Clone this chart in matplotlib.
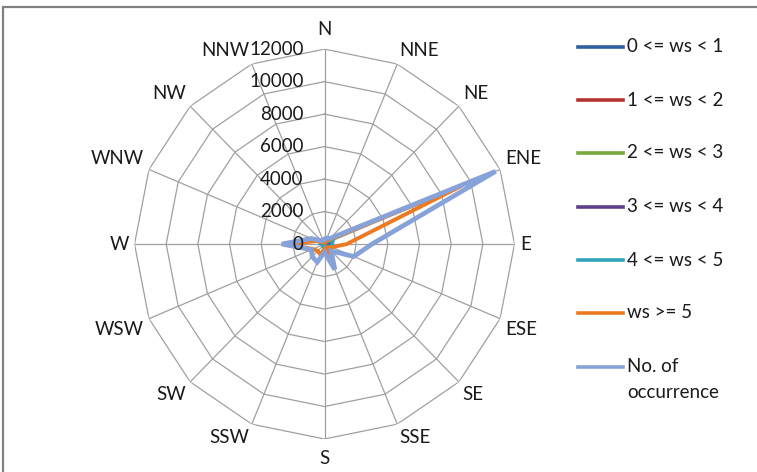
import numpy as np
import matplotlib.pyplot as plt
from matplotlib.lines import Line2D
from matplotlib.patches import Rectangle

plt.rcParams['font.family'] = ['Lato', 'DejaVu Sans']

directions = ['N', 'NNE', 'NE', 'ENE', 'E', 'ESE', 'SE', 'SSE',
              'S', 'SSW', 'SW', 'WSW', 'W', 'WNW', 'NW', 'NNW']

ws_0_1 = [20, 30, 40, 60, 50, 40, 30, 40, 30, 40, 30, 30, 50, 30, 20, 20]
ws_1_2 = [40, 50, 60, 120, 100, 80, 60, 80, 60, 70, 60, 60, 90, 60, 40, 40]
ws_2_3 = [60, 80, 100, 250, 200, 150, 100, 150, 100, 120, 100, 100, 150, 100, 60, 50]
ws_3_4 = [70, 100, 120, 400, 300, 250, 130, 200, 130, 150, 130, 120, 200, 130, 80, 60]
ws_4_5 = [80, 120, 150, 600, 500, 350, 160, 300, 150, 200, 180, 150, 250, 150, 90, 70]
ws_5_up = [100, 200, 350, 9400, 1400, 500, 300, 1000, 300, 700, 600, 800, 2400, 500, 150, 100]
occurrence = [300, 400, 500, 11700, 3000, 2000, 600, 1700, 500, 1200, 1100, 900, 2700, 900, 300, 250]

series = [
    ('0 <= ws < 1', ws_0_1, '#2f5f9e'),
    ('1 <= ws < 2', ws_1_2, '#b5332f'),
    ('2 <= ws < 3', ws_2_3, '#7aa83c'),
    ('3 <= ws < 4', ws_3_4, '#5e3f8c'),
    ('4 <= ws < 5', ws_4_5, '#2fa3bd'),
    ('ws >= 5', ws_5_up, '#ec7a22'),
    ('No. of\noccurrence', occurrence, '#86a2d8'),
]
widths = [2.2, 2.2, 2.2, 2.2, 2.2, 2.8, 3.4]

rings = [2000, 4000, 6000, 8000, 10000, 12000]
rmax = 12000
fsize = 13.5

fig = plt.figure(figsize=(7.57, 4.72), dpi=100)
fig.add_artist(Rectangle((3 / 757, -0.1), 1.2, 1.1 - 7 / 472,
                         transform=fig.transFigure, fill=False,
                         edgecolor='#808080', lw=1.6))

ax = fig.add_axes([0.1777, 0.0699, 0.502, 0.826], projection='polar')
ax.set_aspect('auto')
ax.set_theta_zero_location('N')
ax.set_theta_direction(-1)
ax.set_ylim(0, rmax)
ax.grid(False)
ax.spines['polar'].set_visible(False)
ax.set_xticks([])
ax.set_yticks([])
ax.patch.set_alpha(0)

angles = np.linspace(0, 2 * np.pi, len(directions), endpoint=False)
closed = np.append(angles, angles[0])

# polygon grid
for r in rings:
    ax.plot(closed, [r] * len(closed), color='#a0a0a0', lw=0.9, zorder=1)
for a in angles:
    ax.plot([a, a], [0, rmax], color='#a0a0a0', lw=0.9, zorder=1)

for i, (name, vals, col) in enumerate(series):
    ax.plot(closed, list(vals) + [vals[0]], color=col, lw=widths[i],
            zorder=3 + i, solid_joinstyle='miter')

# direction labels
for a, lab in zip(angles, directions):
    s, c = np.sin(a), np.cos(a)
    ha = 'center' if abs(s) < 0.1 else ('left' if s > 0 else 'right')
    va = 'center' if abs(c) < 0.3 else ('bottom' if c > 0 else 'top')
    off = 8 if lab in ('N', 'S') else 4
    ax.annotate(lab, (a, rmax), xytext=(off * s, off * c),
                textcoords='offset points', ha=ha, va=va,
                fontsize=fsize, color='#1a1a1a', annotation_clip=False)

# radial value labels
for r in [0] + rings:
    ax.annotate(str(r), (0, r), xytext=(-15, 0), textcoords='offset points',
                ha='right', va='center', fontsize=fsize, color='#1a1a1a',
                zorder=20, annotation_clip=False)

# legend
row_y = [47, 100, 153, 207, 260, 313, 367]
for (name, vals, col), y in zip(series, row_y):
    fy = 1 - y / 472
    fig.add_artist(Line2D([578 / 757, 623 / 757], [fy, fy], color=col,
                          lw=2.6, transform=fig.transFigure))
    for k, line in enumerate(name.split('\n')):
        fig.text(627 / 757, 1 - (y + 26 * k) / 472, line, ha='left',
                 va='center', fontsize=fsize, color='#1a1a1a')

fig.savefig('out.png', dpi=100)
